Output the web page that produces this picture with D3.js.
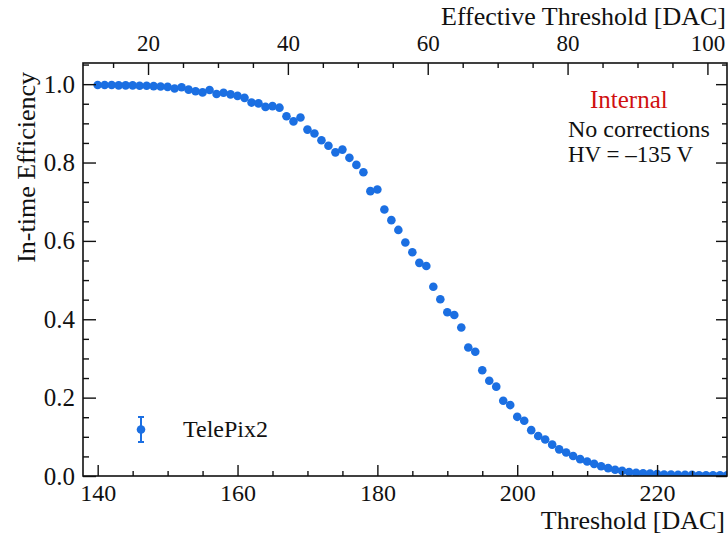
<!DOCTYPE html>
<html>
<head>
<meta charset="utf-8">
<script src="https://cdn.jsdelivr.net/npm/d3@7/dist/d3.min.js"></script>
<style>
  html, body { margin: 0; padding: 0; background: #fff; }
  svg { display: block; }
  text { font-family: 'Liberation Serif', 'Times New Roman', serif; fill: #111; }
</style>
</head>
<body>
<svg id="chart" width="728" height="534"></svg>
<script>
// ---- data ----
const thresholds = d3.range(140, 231);
const efficiency = [
  0.998, 0.998, 0.998, 0.997, 0.997, 0.997, 0.996, 0.996, 0.995, 0.994,
  0.993, 0.989, 0.992, 0.986, 0.982, 0.979, 0.985, 0.975, 0.978, 0.974,
  0.970, 0.965, 0.953, 0.951, 0.942, 0.944, 0.940, 0.918, 0.905, 0.915,
  0.884, 0.874, 0.857, 0.843, 0.826, 0.833, 0.812, 0.794, 0.775, 0.727,
  0.731, 0.680, 0.653, 0.628, 0.596, 0.571, 0.544, 0.536, 0.483, 0.451,
  0.418, 0.411, 0.379, 0.328, 0.317, 0.270, 0.243, 0.228, 0.192, 0.181,
  0.151, 0.141, 0.117, 0.102, 0.093, 0.080, 0.068, 0.060, 0.051, 0.043,
  0.037, 0.031, 0.025, 0.020, 0.016, 0.013, 0.010, 0.008, 0.007, 0.006,
  0.005, 0.004, 0.004, 0.003, 0.003, 0.003, 0.002, 0.002, 0.002, 0.002,
  0.002
];
const bottomTicks = [140, 160, 180, 200, 220];
const topTicks = [20, 40, 60, 80, 100];
const yTicks = [0.0, 0.2, 0.4, 0.6, 0.8, 1.0];
const effectiveOffset = 127.2; // Effective Threshold = Threshold - offset
const seriesName = "TelePix2";
const annotations = ["Internal", "No corrections", "HV = \u2013135 V"];

// ---- layout ----
const L = 83, R = 727, T = 63, B = 476;
const FONT = "'Liberation Serif', 'Times New Roman', serif";
const svg = d3.select("#chart");
svg.append("rect").attr("width", 728).attr("height", 534).attr("fill", "#fff");

const x = d3.scaleLinear().domain([137.9, 230]).range([L, R]);
const xTop = d3.scaleLinear().domain([137.9 - effectiveOffset, 230 - effectiveOffset]).range([L, R]);
const y = d3.scaleLinear().domain([0, 1.054]).range([B, T]);

const data = thresholds.map((t, i) => ({ t, v: efficiency[i] }));

svg.append("clipPath").attr("id", "clip")
  .append("rect").attr("x", L).attr("y", T).attr("width", R - L).attr("height", B - T);

const blue = "#1b6fe2";
svg.append("g").attr("clip-path", "url(#clip)")
  .selectAll("circle").data(data).join("circle")
  .attr("cx", d => x(d.t)).attr("cy", d => y(d.v)).attr("r", 4.3)
  .attr("fill", blue);

// ---- axes ----
function styleAxis(size) {
  return g => {
    g.attr("font-family", FONT);
    g.select(".domain").remove();
    g.selectAll(".tick line").attr("stroke", "#111").attr("stroke-width", 1.4);
    g.selectAll(".tick text").style("font-size", size).attr("fill", "#111").style("font-family", FONT);
  };
}
const minorBottom = d3.range(145, 230, 5).filter(v => !bottomTicks.includes(v));
const minorTop = d3.range(15, 103, 5).filter(v => !topTicks.includes(v));
const minorY = d3.range(0.05, 1.051, 0.05).map(v => +v.toFixed(2)).filter(v => !yTicks.some(t => Math.abs(t - v) < 1e-6));

svg.append("g").attr("transform", `translate(0,${B})`)
  .call(d3.axisBottom(x).tickValues(bottomTicks).tickSizeInner(-11).tickSizeOuter(0).tickPadding(8).tickFormat(d3.format("d")))
  .call(styleAxis("24px"));
svg.append("g").attr("transform", `translate(0,${B})`)
  .call(d3.axisBottom(x).tickValues(minorBottom).tickSizeInner(-5).tickSizeOuter(0).tickFormat(""))
  .call(styleAxis("24px"));
svg.append("g").attr("transform", `translate(0,${T})`)
  .call(d3.axisTop(xTop).tickValues(topTicks).tickSizeInner(-12).tickSizeOuter(0).tickPadding(12).tickFormat(d3.format("d")))
  .call(styleAxis("23px"));
svg.append("g").attr("transform", `translate(0,${T})`)
  .call(d3.axisTop(xTop).tickValues(minorTop).tickSizeInner(-5).tickSizeOuter(0).tickFormat(""))
  .call(styleAxis("23px"));
svg.append("g").attr("transform", `translate(${L},0)`)
  .call(d3.axisLeft(y).tickValues(yTicks).tickSizeInner(-13).tickSizeOuter(0).tickPadding(8).tickFormat(d3.format(".1f")))
  .call(styleAxis("25px"));
svg.append("g").attr("transform", `translate(${L},0)`)
  .call(d3.axisLeft(y).tickValues(minorY).tickSizeInner(-6).tickSizeOuter(0).tickFormat(""))
  .call(styleAxis("25px"));
svg.append("g").attr("transform", `translate(${R},0)`)
  .call(d3.axisRight(y).tickValues(yTicks).tickSizeInner(-11).tickSizeOuter(0).tickFormat(""))
  .call(styleAxis("25px"));
svg.append("g").attr("transform", `translate(${R},0)`)
  .call(d3.axisRight(y).tickValues(minorY).tickSizeInner(-5).tickSizeOuter(0).tickFormat(""))
  .call(styleAxis("25px"));

svg.append("rect").attr("x", L).attr("y", T).attr("width", R - L).attr("height", B - T)
  .attr("fill", "none").attr("stroke", "#111").attr("stroke-width", 1.6);

// titles
svg.append("text").attr("x", 725).attr("y", 529).attr("text-anchor", "end")
  .style("font-size", "26px").text("Threshold [DAC]");
svg.append("text").attr("x", 726).attr("y", 25).attr("text-anchor", "end")
  .style("font-size", "26px").text("Effective Threshold [DAC]");
svg.append("text").attr("transform", "translate(35,72) rotate(-90)").attr("text-anchor", "end")
  .style("font-size", "26px").text("In-time Efficiency");

// annotations
svg.append("text").attr("x", 590).attr("y", 108).style("font-size", "25px")
  .style("fill", "#d01010").text(annotations[0]);
svg.append("text").attr("x", 568).attr("y", 137).style("font-size", "24px").text(annotations[1]);
svg.append("text").attr("x", 568).attr("y", 162).style("font-size", "23px").text(annotations[2]);

// legend
const lg = svg.append("g");
lg.append("line").attr("x1", 141).attr("x2", 141).attr("y1", 417).attr("y2", 442)
  .attr("stroke", blue).attr("stroke-width", 2);
lg.append("line").attr("x1", 138).attr("x2", 144).attr("y1", 417).attr("y2", 417)
  .attr("stroke", blue).attr("stroke-width", 2);
lg.append("line").attr("x1", 138).attr("x2", 144).attr("y1", 442).attr("y2", 442)
  .attr("stroke", blue).attr("stroke-width", 2);
lg.append("circle").attr("cx", 141).attr("cy", 429.5).attr("r", 4.3).attr("fill", blue);
lg.append("text").attr("x", 183).attr("y", 437).style("font-size", "24px").text(seriesName);
</script>
</body>
</html>
